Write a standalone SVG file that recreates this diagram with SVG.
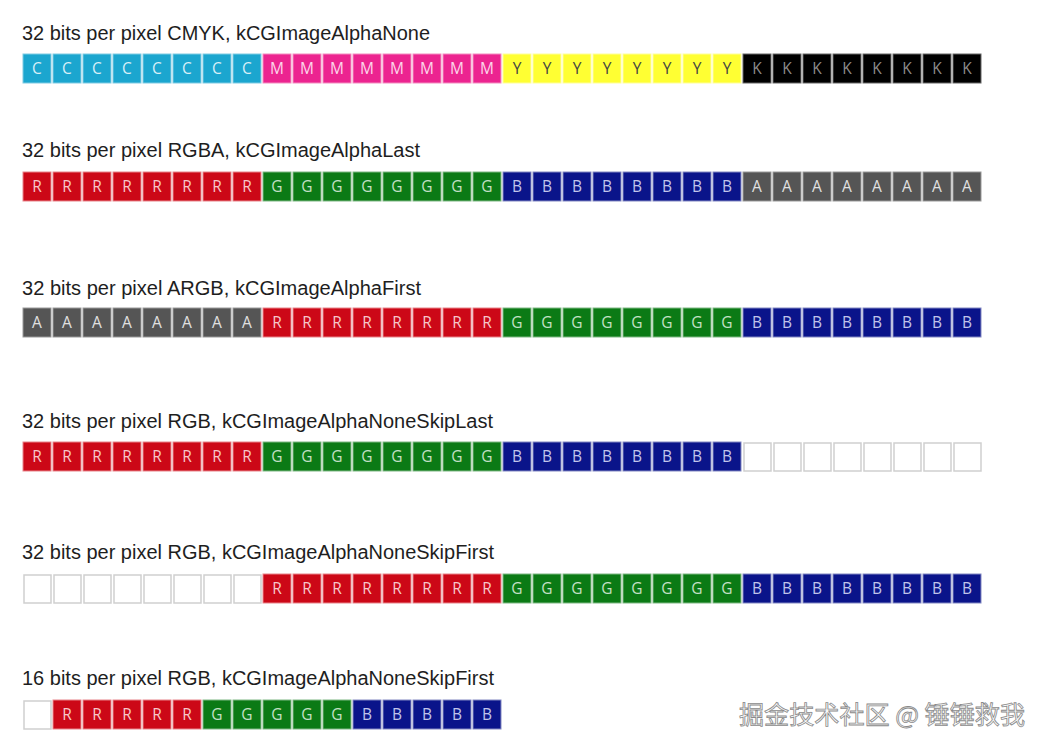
<svg xmlns="http://www.w3.org/2000/svg" width="1046" height="750" viewBox="0 0 1046 750">
<style>
.lbl{font-family:"Liberation Sans",Arial,sans-serif;font-size:19.5px;fill:#1e1e1e}
rect{stroke-width:1}
.C{fill:#1ba6cf;stroke:#7fcbe3}
.M{fill:#ec2490;stroke:#f38cc0}
.Y{fill:#ffff33;stroke:#ffff9a}
.K{fill:#000;stroke:#666}
.R{fill:#cc0817;stroke:#e8838a}
.G{fill:#0b7a15;stroke:#7fb884}
.B{fill:#0a148a;stroke:#8187c2}
.A{fill:#555;stroke:#999}
.E{fill:#fff;stroke:#cfcfcf;stroke-width:1.5}
text.t{font-family:"Open Sans","DejaVu Sans",sans-serif;font-size:15.5px;text-anchor:middle}
.tC{fill:#d8eff7}.tM{fill:#fcd6e9}.tY{fill:#444}.tK{fill:#8a8a8a}.tR{fill:#f7c6c9}.tG{fill:#c4e0c6}.tB{fill:#c0c4ea}.tA{fill:#e0e0e0}
.wm{font-family:"Noto Sans CJK SC","Liberation Sans",sans-serif;font-size:24.5px;fill:#fbfbfb;stroke:#8a8a8a;stroke-width:0.8}
</style>
<rect width="1046" height="750" fill="#fff" stroke="none"/>

<g id="row1-cmyk">
<text class="lbl" x="22" y="40" textLength="408" lengthAdjust="spacingAndGlyphs">32 bits per pixel CMYK, kCGImageAlphaNone</text>
<rect class="C" x="23" y="54" width="28" height="29"/><text class="t tC" x="37" y="74">C</text>
<rect class="C" x="53" y="54" width="28" height="29"/><text class="t tC" x="67" y="74">C</text>
<rect class="C" x="83" y="54" width="28" height="29"/><text class="t tC" x="97" y="74">C</text>
<rect class="C" x="113" y="54" width="28" height="29"/><text class="t tC" x="127" y="74">C</text>
<rect class="C" x="143" y="54" width="28" height="29"/><text class="t tC" x="157" y="74">C</text>
<rect class="C" x="173" y="54" width="28" height="29"/><text class="t tC" x="187" y="74">C</text>
<rect class="C" x="203" y="54" width="28" height="29"/><text class="t tC" x="217" y="74">C</text>
<rect class="C" x="233" y="54" width="28" height="29"/><text class="t tC" x="247" y="74">C</text>
<rect class="M" x="263" y="54" width="28" height="29"/><text class="t tM" x="277" y="74">M</text>
<rect class="M" x="293" y="54" width="28" height="29"/><text class="t tM" x="307" y="74">M</text>
<rect class="M" x="323" y="54" width="28" height="29"/><text class="t tM" x="337" y="74">M</text>
<rect class="M" x="353" y="54" width="28" height="29"/><text class="t tM" x="367" y="74">M</text>
<rect class="M" x="383" y="54" width="28" height="29"/><text class="t tM" x="397" y="74">M</text>
<rect class="M" x="413" y="54" width="28" height="29"/><text class="t tM" x="427" y="74">M</text>
<rect class="M" x="443" y="54" width="28" height="29"/><text class="t tM" x="457" y="74">M</text>
<rect class="M" x="473" y="54" width="28" height="29"/><text class="t tM" x="487" y="74">M</text>
<rect class="Y" x="503" y="54" width="28" height="29"/><text class="t tY" x="517" y="74">Y</text>
<rect class="Y" x="533" y="54" width="28" height="29"/><text class="t tY" x="547" y="74">Y</text>
<rect class="Y" x="563" y="54" width="28" height="29"/><text class="t tY" x="577" y="74">Y</text>
<rect class="Y" x="593" y="54" width="28" height="29"/><text class="t tY" x="607" y="74">Y</text>
<rect class="Y" x="623" y="54" width="28" height="29"/><text class="t tY" x="637" y="74">Y</text>
<rect class="Y" x="653" y="54" width="28" height="29"/><text class="t tY" x="667" y="74">Y</text>
<rect class="Y" x="683" y="54" width="28" height="29"/><text class="t tY" x="697" y="74">Y</text>
<rect class="Y" x="713" y="54" width="28" height="29"/><text class="t tY" x="727" y="74">Y</text>
<rect class="K" x="743" y="54" width="28" height="29"/><text class="t tK" x="757" y="74">K</text>
<rect class="K" x="773" y="54" width="28" height="29"/><text class="t tK" x="787" y="74">K</text>
<rect class="K" x="803" y="54" width="28" height="29"/><text class="t tK" x="817" y="74">K</text>
<rect class="K" x="833" y="54" width="28" height="29"/><text class="t tK" x="847" y="74">K</text>
<rect class="K" x="863" y="54" width="28" height="29"/><text class="t tK" x="877" y="74">K</text>
<rect class="K" x="893" y="54" width="28" height="29"/><text class="t tK" x="907" y="74">K</text>
<rect class="K" x="923" y="54" width="28" height="29"/><text class="t tK" x="937" y="74">K</text>
<rect class="K" x="953" y="54" width="28" height="29"/><text class="t tK" x="967" y="74">K</text>
</g>

<g id="row2-rgba">
<text class="lbl" x="22" y="157" textLength="398" lengthAdjust="spacingAndGlyphs">32 bits per pixel RGBA, kCGImageAlphaLast</text>
<rect class="R" x="23" y="172" width="28" height="29"/><text class="t tR" x="37" y="192">R</text>
<rect class="R" x="53" y="172" width="28" height="29"/><text class="t tR" x="67" y="192">R</text>
<rect class="R" x="83" y="172" width="28" height="29"/><text class="t tR" x="97" y="192">R</text>
<rect class="R" x="113" y="172" width="28" height="29"/><text class="t tR" x="127" y="192">R</text>
<rect class="R" x="143" y="172" width="28" height="29"/><text class="t tR" x="157" y="192">R</text>
<rect class="R" x="173" y="172" width="28" height="29"/><text class="t tR" x="187" y="192">R</text>
<rect class="R" x="203" y="172" width="28" height="29"/><text class="t tR" x="217" y="192">R</text>
<rect class="R" x="233" y="172" width="28" height="29"/><text class="t tR" x="247" y="192">R</text>
<rect class="G" x="263" y="172" width="28" height="29"/><text class="t tG" x="277" y="192">G</text>
<rect class="G" x="293" y="172" width="28" height="29"/><text class="t tG" x="307" y="192">G</text>
<rect class="G" x="323" y="172" width="28" height="29"/><text class="t tG" x="337" y="192">G</text>
<rect class="G" x="353" y="172" width="28" height="29"/><text class="t tG" x="367" y="192">G</text>
<rect class="G" x="383" y="172" width="28" height="29"/><text class="t tG" x="397" y="192">G</text>
<rect class="G" x="413" y="172" width="28" height="29"/><text class="t tG" x="427" y="192">G</text>
<rect class="G" x="443" y="172" width="28" height="29"/><text class="t tG" x="457" y="192">G</text>
<rect class="G" x="473" y="172" width="28" height="29"/><text class="t tG" x="487" y="192">G</text>
<rect class="B" x="503" y="172" width="28" height="29"/><text class="t tB" x="517" y="192">B</text>
<rect class="B" x="533" y="172" width="28" height="29"/><text class="t tB" x="547" y="192">B</text>
<rect class="B" x="563" y="172" width="28" height="29"/><text class="t tB" x="577" y="192">B</text>
<rect class="B" x="593" y="172" width="28" height="29"/><text class="t tB" x="607" y="192">B</text>
<rect class="B" x="623" y="172" width="28" height="29"/><text class="t tB" x="637" y="192">B</text>
<rect class="B" x="653" y="172" width="28" height="29"/><text class="t tB" x="667" y="192">B</text>
<rect class="B" x="683" y="172" width="28" height="29"/><text class="t tB" x="697" y="192">B</text>
<rect class="B" x="713" y="172" width="28" height="29"/><text class="t tB" x="727" y="192">B</text>
<rect class="A" x="743" y="172" width="28" height="29"/><text class="t tA" x="757" y="192">A</text>
<rect class="A" x="773" y="172" width="28" height="29"/><text class="t tA" x="787" y="192">A</text>
<rect class="A" x="803" y="172" width="28" height="29"/><text class="t tA" x="817" y="192">A</text>
<rect class="A" x="833" y="172" width="28" height="29"/><text class="t tA" x="847" y="192">A</text>
<rect class="A" x="863" y="172" width="28" height="29"/><text class="t tA" x="877" y="192">A</text>
<rect class="A" x="893" y="172" width="28" height="29"/><text class="t tA" x="907" y="192">A</text>
<rect class="A" x="923" y="172" width="28" height="29"/><text class="t tA" x="937" y="192">A</text>
<rect class="A" x="953" y="172" width="28" height="29"/><text class="t tA" x="967" y="192">A</text>
</g>

<g id="row3-argb">
<text class="lbl" x="22" y="295" textLength="399" lengthAdjust="spacingAndGlyphs">32 bits per pixel ARGB, kCGImageAlphaFirst</text>
<rect class="A" x="23" y="308" width="28" height="29"/><text class="t tA" x="37" y="328">A</text>
<rect class="A" x="53" y="308" width="28" height="29"/><text class="t tA" x="67" y="328">A</text>
<rect class="A" x="83" y="308" width="28" height="29"/><text class="t tA" x="97" y="328">A</text>
<rect class="A" x="113" y="308" width="28" height="29"/><text class="t tA" x="127" y="328">A</text>
<rect class="A" x="143" y="308" width="28" height="29"/><text class="t tA" x="157" y="328">A</text>
<rect class="A" x="173" y="308" width="28" height="29"/><text class="t tA" x="187" y="328">A</text>
<rect class="A" x="203" y="308" width="28" height="29"/><text class="t tA" x="217" y="328">A</text>
<rect class="A" x="233" y="308" width="28" height="29"/><text class="t tA" x="247" y="328">A</text>
<rect class="R" x="263" y="308" width="28" height="29"/><text class="t tR" x="277" y="328">R</text>
<rect class="R" x="293" y="308" width="28" height="29"/><text class="t tR" x="307" y="328">R</text>
<rect class="R" x="323" y="308" width="28" height="29"/><text class="t tR" x="337" y="328">R</text>
<rect class="R" x="353" y="308" width="28" height="29"/><text class="t tR" x="367" y="328">R</text>
<rect class="R" x="383" y="308" width="28" height="29"/><text class="t tR" x="397" y="328">R</text>
<rect class="R" x="413" y="308" width="28" height="29"/><text class="t tR" x="427" y="328">R</text>
<rect class="R" x="443" y="308" width="28" height="29"/><text class="t tR" x="457" y="328">R</text>
<rect class="R" x="473" y="308" width="28" height="29"/><text class="t tR" x="487" y="328">R</text>
<rect class="G" x="503" y="308" width="28" height="29"/><text class="t tG" x="517" y="328">G</text>
<rect class="G" x="533" y="308" width="28" height="29"/><text class="t tG" x="547" y="328">G</text>
<rect class="G" x="563" y="308" width="28" height="29"/><text class="t tG" x="577" y="328">G</text>
<rect class="G" x="593" y="308" width="28" height="29"/><text class="t tG" x="607" y="328">G</text>
<rect class="G" x="623" y="308" width="28" height="29"/><text class="t tG" x="637" y="328">G</text>
<rect class="G" x="653" y="308" width="28" height="29"/><text class="t tG" x="667" y="328">G</text>
<rect class="G" x="683" y="308" width="28" height="29"/><text class="t tG" x="697" y="328">G</text>
<rect class="G" x="713" y="308" width="28" height="29"/><text class="t tG" x="727" y="328">G</text>
<rect class="B" x="743" y="308" width="28" height="29"/><text class="t tB" x="757" y="328">B</text>
<rect class="B" x="773" y="308" width="28" height="29"/><text class="t tB" x="787" y="328">B</text>
<rect class="B" x="803" y="308" width="28" height="29"/><text class="t tB" x="817" y="328">B</text>
<rect class="B" x="833" y="308" width="28" height="29"/><text class="t tB" x="847" y="328">B</text>
<rect class="B" x="863" y="308" width="28" height="29"/><text class="t tB" x="877" y="328">B</text>
<rect class="B" x="893" y="308" width="28" height="29"/><text class="t tB" x="907" y="328">B</text>
<rect class="B" x="923" y="308" width="28" height="29"/><text class="t tB" x="937" y="328">B</text>
<rect class="B" x="953" y="308" width="28" height="29"/><text class="t tB" x="967" y="328">B</text>
</g>

<g id="row4-rgb-skiplast">
<text class="lbl" x="22" y="428" textLength="471" lengthAdjust="spacingAndGlyphs">32 bits per pixel RGB, kCGImageAlphaNoneSkipLast</text>
<rect class="R" x="23" y="442" width="28" height="29"/><text class="t tR" x="37" y="462">R</text>
<rect class="R" x="53" y="442" width="28" height="29"/><text class="t tR" x="67" y="462">R</text>
<rect class="R" x="83" y="442" width="28" height="29"/><text class="t tR" x="97" y="462">R</text>
<rect class="R" x="113" y="442" width="28" height="29"/><text class="t tR" x="127" y="462">R</text>
<rect class="R" x="143" y="442" width="28" height="29"/><text class="t tR" x="157" y="462">R</text>
<rect class="R" x="173" y="442" width="28" height="29"/><text class="t tR" x="187" y="462">R</text>
<rect class="R" x="203" y="442" width="28" height="29"/><text class="t tR" x="217" y="462">R</text>
<rect class="R" x="233" y="442" width="28" height="29"/><text class="t tR" x="247" y="462">R</text>
<rect class="G" x="263" y="442" width="28" height="29"/><text class="t tG" x="277" y="462">G</text>
<rect class="G" x="293" y="442" width="28" height="29"/><text class="t tG" x="307" y="462">G</text>
<rect class="G" x="323" y="442" width="28" height="29"/><text class="t tG" x="337" y="462">G</text>
<rect class="G" x="353" y="442" width="28" height="29"/><text class="t tG" x="367" y="462">G</text>
<rect class="G" x="383" y="442" width="28" height="29"/><text class="t tG" x="397" y="462">G</text>
<rect class="G" x="413" y="442" width="28" height="29"/><text class="t tG" x="427" y="462">G</text>
<rect class="G" x="443" y="442" width="28" height="29"/><text class="t tG" x="457" y="462">G</text>
<rect class="G" x="473" y="442" width="28" height="29"/><text class="t tG" x="487" y="462">G</text>
<rect class="B" x="503" y="442" width="28" height="29"/><text class="t tB" x="517" y="462">B</text>
<rect class="B" x="533" y="442" width="28" height="29"/><text class="t tB" x="547" y="462">B</text>
<rect class="B" x="563" y="442" width="28" height="29"/><text class="t tB" x="577" y="462">B</text>
<rect class="B" x="593" y="442" width="28" height="29"/><text class="t tB" x="607" y="462">B</text>
<rect class="B" x="623" y="442" width="28" height="29"/><text class="t tB" x="637" y="462">B</text>
<rect class="B" x="653" y="442" width="28" height="29"/><text class="t tB" x="667" y="462">B</text>
<rect class="B" x="683" y="442" width="28" height="29"/><text class="t tB" x="697" y="462">B</text>
<rect class="B" x="713" y="442" width="28" height="29"/><text class="t tB" x="727" y="462">B</text>
<rect class="E" x="744" y="443" width="27" height="28"/>
<rect class="E" x="774" y="443" width="27" height="28"/>
<rect class="E" x="804" y="443" width="27" height="28"/>
<rect class="E" x="834" y="443" width="27" height="28"/>
<rect class="E" x="864" y="443" width="27" height="28"/>
<rect class="E" x="894" y="443" width="27" height="28"/>
<rect class="E" x="924" y="443" width="27" height="28"/>
<rect class="E" x="954" y="443" width="27" height="28"/>
</g>

<g id="row5-rgb-skipfirst">
<text class="lbl" x="22" y="559" textLength="472" lengthAdjust="spacingAndGlyphs">32 bits per pixel RGB, kCGImageAlphaNoneSkipFirst</text>
<rect class="E" x="24" y="575" width="27" height="28"/>
<rect class="E" x="54" y="575" width="27" height="28"/>
<rect class="E" x="84" y="575" width="27" height="28"/>
<rect class="E" x="114" y="575" width="27" height="28"/>
<rect class="E" x="144" y="575" width="27" height="28"/>
<rect class="E" x="174" y="575" width="27" height="28"/>
<rect class="E" x="204" y="575" width="27" height="28"/>
<rect class="E" x="234" y="575" width="27" height="28"/>
<rect class="R" x="263" y="574" width="28" height="29"/><text class="t tR" x="277" y="594">R</text>
<rect class="R" x="293" y="574" width="28" height="29"/><text class="t tR" x="307" y="594">R</text>
<rect class="R" x="323" y="574" width="28" height="29"/><text class="t tR" x="337" y="594">R</text>
<rect class="R" x="353" y="574" width="28" height="29"/><text class="t tR" x="367" y="594">R</text>
<rect class="R" x="383" y="574" width="28" height="29"/><text class="t tR" x="397" y="594">R</text>
<rect class="R" x="413" y="574" width="28" height="29"/><text class="t tR" x="427" y="594">R</text>
<rect class="R" x="443" y="574" width="28" height="29"/><text class="t tR" x="457" y="594">R</text>
<rect class="R" x="473" y="574" width="28" height="29"/><text class="t tR" x="487" y="594">R</text>
<rect class="G" x="503" y="574" width="28" height="29"/><text class="t tG" x="517" y="594">G</text>
<rect class="G" x="533" y="574" width="28" height="29"/><text class="t tG" x="547" y="594">G</text>
<rect class="G" x="563" y="574" width="28" height="29"/><text class="t tG" x="577" y="594">G</text>
<rect class="G" x="593" y="574" width="28" height="29"/><text class="t tG" x="607" y="594">G</text>
<rect class="G" x="623" y="574" width="28" height="29"/><text class="t tG" x="637" y="594">G</text>
<rect class="G" x="653" y="574" width="28" height="29"/><text class="t tG" x="667" y="594">G</text>
<rect class="G" x="683" y="574" width="28" height="29"/><text class="t tG" x="697" y="594">G</text>
<rect class="G" x="713" y="574" width="28" height="29"/><text class="t tG" x="727" y="594">G</text>
<rect class="B" x="743" y="574" width="28" height="29"/><text class="t tB" x="757" y="594">B</text>
<rect class="B" x="773" y="574" width="28" height="29"/><text class="t tB" x="787" y="594">B</text>
<rect class="B" x="803" y="574" width="28" height="29"/><text class="t tB" x="817" y="594">B</text>
<rect class="B" x="833" y="574" width="28" height="29"/><text class="t tB" x="847" y="594">B</text>
<rect class="B" x="863" y="574" width="28" height="29"/><text class="t tB" x="877" y="594">B</text>
<rect class="B" x="893" y="574" width="28" height="29"/><text class="t tB" x="907" y="594">B</text>
<rect class="B" x="923" y="574" width="28" height="29"/><text class="t tB" x="937" y="594">B</text>
<rect class="B" x="953" y="574" width="28" height="29"/><text class="t tB" x="967" y="594">B</text>
</g>

<g id="row6-rgb16-skipfirst">
<text class="lbl" x="22" y="685" textLength="472" lengthAdjust="spacingAndGlyphs">16 bits per pixel RGB, kCGImageAlphaNoneSkipFirst</text>
<rect class="E" x="24" y="701" width="27" height="28"/>
<rect class="R" x="53" y="700" width="28" height="29"/><text class="t tR" x="67" y="720">R</text>
<rect class="R" x="83" y="700" width="28" height="29"/><text class="t tR" x="97" y="720">R</text>
<rect class="R" x="113" y="700" width="28" height="29"/><text class="t tR" x="127" y="720">R</text>
<rect class="R" x="143" y="700" width="28" height="29"/><text class="t tR" x="157" y="720">R</text>
<rect class="R" x="173" y="700" width="28" height="29"/><text class="t tR" x="187" y="720">R</text>
<rect class="G" x="203" y="700" width="28" height="29"/><text class="t tG" x="217" y="720">G</text>
<rect class="G" x="233" y="700" width="28" height="29"/><text class="t tG" x="247" y="720">G</text>
<rect class="G" x="263" y="700" width="28" height="29"/><text class="t tG" x="277" y="720">G</text>
<rect class="G" x="293" y="700" width="28" height="29"/><text class="t tG" x="307" y="720">G</text>
<rect class="G" x="323" y="700" width="28" height="29"/><text class="t tG" x="337" y="720">G</text>
<rect class="B" x="353" y="700" width="28" height="29"/><text class="t tB" x="367" y="720">B</text>
<rect class="B" x="383" y="700" width="28" height="29"/><text class="t tB" x="397" y="720">B</text>
<rect class="B" x="413" y="700" width="28" height="29"/><text class="t tB" x="427" y="720">B</text>
<rect class="B" x="443" y="700" width="28" height="29"/><text class="t tB" x="457" y="720">B</text>
<rect class="B" x="473" y="700" width="28" height="29"/><text class="t tB" x="487" y="720">B</text>
</g>

<g id="watermark">
<text class="wm" x="739" y="724" textLength="286" lengthAdjust="spacingAndGlyphs">掘金技术社区 @ 锤锤救我</text>
</g>
</svg>
